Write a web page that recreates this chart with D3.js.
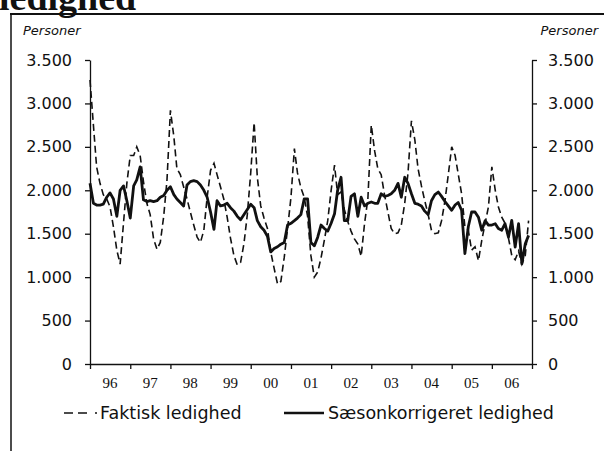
<!DOCTYPE html>
<html>
<head>
<meta charset="utf-8">
<script src="https://cdn.jsdelivr.net/npm/d3@7"></script>
<style>
  body { margin: 0; background: #fff; }
  svg { display: block; }
</style>
</head>
<body>
<script>
// DATA //
const years = ['96', '97', '98', '99', '00', '01', '02', '03', '04', '05', '06'];
const yTicks = [0, 500, 1000, 1500, 2000, 2500, 3000, 3500];

// Faktisk ledighed, monthly 1996-2006
const faktisk = [
    3270, 2750, 2270, 2080, 1950, 1900, 1810, 1580, 1310, 1150, 1630, 2080,
    2400, 2400, 2500, 2400, 2100, 1850, 1720, 1440, 1320, 1400, 1700, 2120,
    2920, 2620, 2250, 2180, 2040, 1900, 1750, 1600, 1460, 1400, 1540, 1920,
    2230, 2310, 2180, 2040, 1900, 1690, 1450, 1250, 1140, 1170, 1390, 1720,
    2200, 2780, 2150, 1820, 1680, 1560, 1290, 1100, 920, 950, 1230, 1560,
    1920, 2480, 2200, 2030, 1920, 1700, 1250, 1000, 1060, 1220, 1430, 1650,
    2000, 2290, 1950, 1980, 1780, 1640, 1530, 1440, 1380, 1240, 1620, 1900,
    2750, 2450, 2250, 2180, 1950, 1750, 1560, 1500, 1510, 1600, 1850, 2200,
    2800, 2580, 2250, 2050, 1880, 1720, 1540, 1500, 1510, 1650, 1880, 2180,
    2500, 2400, 2190, 1960, 1580, 1540, 1310, 1350, 1190, 1420, 1620, 1810,
    2270, 2000, 1810, 1690, 1620, 1450, 1250, 1200, 1300, 1150, 1250, 1650
];

// Saesonkorrigeret ledighed, monthly 1996-2006
const saeson = [
    2080, 1850, 1830, 1830, 1840, 1920, 1970, 1900, 1700, 2000, 2050, 1880,
    1680, 2050, 2120, 2270, 1890, 1870, 1880, 1870, 1880, 1920, 1940, 2000,
    2040, 1950, 1900, 1860, 1820, 2060, 2100, 2110, 2100, 2060, 2000, 1920,
    1750, 1550, 1880, 1820, 1830, 1850, 1800, 1760, 1700, 1660, 1720, 1780,
    1840, 1800, 1650, 1580, 1540, 1470, 1290, 1330, 1350, 1380, 1400, 1600,
    1620, 1650, 1680, 1720, 1900, 1900, 1400, 1360, 1460, 1600, 1560, 1530,
    1620, 1730, 2000, 2150, 1650, 1650, 1930, 1960, 1700, 1920, 1820, 1850,
    1865, 1850, 1850, 1960, 1930, 1940, 1960, 2000, 2080, 1920, 2150, 2080,
    1960, 1850, 1840, 1820, 1760, 1720, 1880, 1950, 1980, 1930, 1870, 1820,
    1770, 1830, 1860, 1770, 1270, 1580, 1750, 1750, 1690, 1540, 1650, 1600,
    1600, 1615, 1560, 1540, 1615, 1460, 1654, 1346, 1615, 1154, 1385, 1481
];

const startYear = 1996;
const months = faktisk.map((d, i) => new Date(startYear, i, 1));

// Dimensions
const width = 604,
    height = 451;
const plot = { left: 90, right: 532, top: 60, bottom: 364 };

const sansFont = '"DejaVu Sans", sans-serif';
const serifFont = '"Liberation Serif", "Times New Roman", serif';

const svg = d3.select('body')
    .append('svg')
    .attr('width', width)
    .attr('height', height);

// FRAME and cut title (only its lower part is in the picture)
svg.append('text')
    .attr('x', -1)
    .attr('y', 10)
    .text('ledighed')
    .style('font-family', serifFont)
    .style('font-weight', 'bold')
    .style('font-size', '38px')
    .attr('fill', '#111');

svg.append('line')
    .attr('x1', 10).attr('x2', width)
    .attr('y1', 14).attr('y2', 14)
    .attr('stroke', '#111')
    .attr('stroke-width', 2);

svg.append('line')
    .attr('x1', 11).attr('x2', 11)
    .attr('y1', 14).attr('y2', height)
    .attr('stroke', '#111')
    .attr('stroke-width', 1.5);

// Scales
const x = d3.scaleTime()
    .domain([new Date(1996, 0, 1), new Date(2007, 0, 1)])
    .range([plot.left, plot.right]);

const y = d3.scaleLinear()
    .domain([0, 3500])
    .range([plot.bottom, plot.top]);

// danish number format 3.500
const dk = d3.formatLocale({ decimal: ',', thousands: '.', grouping: [3], currency: ['', ''] });
const fmt = dk.format(',');

// Y axes left and right
const leftAxis = svg.append('g')
    .attr('transform', `translate(${plot.left},0)`)
    .call(d3.axisLeft(y).tickValues(yTicks).tickFormat(fmt).tickSize(5).tickSizeOuter(0).tickPadding(13));

const rightAxis = svg.append('g')
    .attr('transform', `translate(${plot.right},0)`)
    .call(d3.axisRight(y).tickValues(yTicks).tickFormat(fmt).tickSize(5).tickSizeOuter(0).tickPadding(11));

[leftAxis, rightAxis].forEach(function (ax) {
    ax.selectAll('text')
        .style('font-family', sansFont)
        .style('font-size', '16px')
        .attr('fill', '#111');
    ax.selectAll('path, line')
        .attr('stroke', '#111')
        .attr('stroke-width', 1.3);
});

// X axis, ticks at year boundaries
const yearStarts = d3.range(1996, 2008).map(yr => new Date(yr, 0, 1));
const bottomAxis = svg.append('g')
    .attr('transform', `translate(0,${plot.bottom})`)
    .call(d3.axisBottom(x).tickValues(yearStarts).tickFormat('').tickSize(5).tickSizeOuter(0));
bottomAxis.selectAll('path, line')
    .attr('stroke', '#111')
    .attr('stroke-width', 1.3);

// year labels in the middle of each year
svg.selectAll('.yearLabel')
    .data(years)
    .join('text')
    .classed('yearLabel', true)
    .attr('x', (d, i) => x(new Date(1996 + i, 6, 1)))
    .attr('y', 388)
    .attr('text-anchor', 'middle')
    .text(d => d)
    .style('font-family', serifFont)
    .style('font-size', '15px')
    .attr('fill', '#111');

// Unit labels
svg.append('text')
    .attr('x', 23).attr('y', 35)
    .text('Personer')
    .style('font-family', sansFont)
    .style('font-style', 'italic')
    .style('font-size', '13px')
    .attr('fill', '#111');

svg.append('text')
    .attr('x', 598).attr('y', 35)
    .attr('text-anchor', 'end')
    .text('Personer')
    .style('font-family', sansFont)
    .style('font-style', 'italic')
    .style('font-size', '13px')
    .attr('fill', '#111');

// LINES
const line = d3.line()
    .x((d, i) => x(months[i]))
    .y(d => y(d));

svg.append('path')
    .datum(faktisk)
    .attr('d', line)
    .attr('fill', 'none')
    .attr('stroke', '#111')
    .attr('stroke-width', 1.6)
    .attr('stroke-dasharray', '7,4');

svg.append('path')
    .datum(saeson)
    .attr('d', line)
    .attr('fill', 'none')
    .attr('stroke', '#111')
    .attr('stroke-width', 2.8)
    .attr('stroke-linejoin', 'round');

// LEGEND
const legend = svg.append('g');

legend.append('line')
    .attr('x1', 64).attr('x2', 97)
    .attr('y1', 413).attr('y2', 413)
    .attr('stroke', '#111')
    .attr('stroke-width', 1.4)
    .attr('stroke-dasharray', '9,5,9,8,2');

legend.append('text')
    .attr('x', 100).attr('y', 419)
    .text('Faktisk ledighed')
    .style('font-family', sansFont)
    .style('font-size', '17.5px')
    .attr('fill', '#111');

legend.append('line')
    .attr('x1', 284).attr('x2', 324)
    .attr('y1', 413).attr('y2', 413)
    .attr('stroke', '#111')
    .attr('stroke-width', 2.6);

legend.append('text')
    .attr('x', 328).attr('y', 419)
    .text('Sæsonkorrigeret ledighed')
    .style('font-family', sansFont)
    .style('font-size', '17.5px')
    .attr('fill', '#111');
</script>
</body>
</html>
